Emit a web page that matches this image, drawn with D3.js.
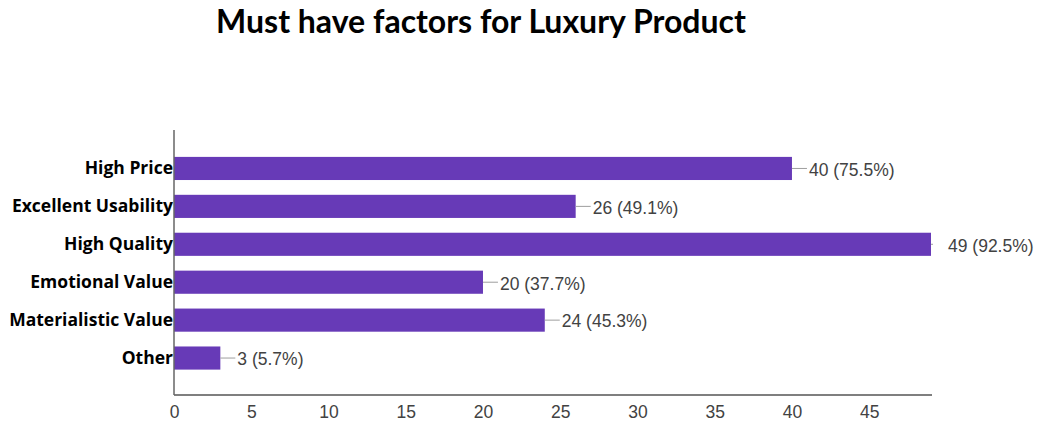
<!DOCTYPE html>
<html>
<head>
<meta charset="utf-8">
<script src="https://cdn.jsdelivr.net/npm/d3@7/dist/d3.min.js"></script>
<style>
  html, body { margin: 0; padding: 0; background: #fff; }
  svg { display: block; }
</style>
</head>
<body>
<div id="chart"></div>
<script>
// Survey answers: how many respondents picked each factor
const categories = ["High Price", "Excellent Usability", "High Quality", "Emotional Value", "Materialistic Value", "Other"];
const counts = [40, 26, 49, 20, 24, 3];
const percents = ["75.5%", "49.1%", "92.5%", "37.7%", "45.3%", "5.7%"];
const xTicks = [0, 5, 10, 15, 20, 25, 30, 35, 40, 45];
const title = "Must have factors for Luxury Product";

const width = 1040, height = 424;
const plot = { left: 174, right: 932, top: 130, bottom: 395 };

const svg = d3.select("#chart").append("svg")
  .attr("width", width).attr("height", height);

const x = d3.scaleLinear().domain([0, 49]).range([plot.left, plot.right - 1]);
const y = d3.scaleBand().domain(categories)
  .range([149.5, 377]).paddingInner(0.39).paddingOuter(0.195);

// Title
svg.append("text")
  .attr("x", 481).attr("y", 33)
  .attr("text-anchor", "middle")
  .attr("font-family", "Lato, 'Open Sans', sans-serif")
  .attr("font-weight", "bold")
  .attr("font-size", 32)
  .attr("fill", "#000")
  .text(title);

// Bars
svg.append("g").selectAll("rect")
  .data(categories)
  .join("rect")
  .attr("x", x(0))
  .attr("y", d => y(d))
  .attr("width", (d, i) => x(counts[i]) - x(0))
  .attr("height", y.bandwidth())
  .attr("fill", "#673ab7");

// Leader lines, clipped to the plotting area
svg.append("clipPath").attr("id", "plotClip")
  .append("rect")
  .attr("x", plot.left).attr("y", plot.top)
  .attr("width", plot.right - plot.left + 1).attr("height", plot.bottom - plot.top);

svg.append("g").attr("clip-path", "url(#plotClip)")
  .selectAll("line")
  .data(categories)
  .join("line")
  .attr("x1", (d, i) => x(counts[i]))
  .attr("x2", (d, i) => x(counts[i]) + 15)
  .attr("y1", d => y(d) + y.bandwidth() / 2)
  .attr("y2", d => y(d) + y.bandwidth() / 2)
  .attr("stroke", "#9e9e9e")
  .attr("stroke-width", 1);

// Value labels
svg.append("g").selectAll("text")
  .data(categories)
  .join("text")
  .attr("x", (d, i) => x(counts[i]) + 17)
  .attr("y", d => y(d) + y.bandwidth() / 2)
  .attr("dy", "0.42em")
  .attr("font-family", "'Liberation Sans', Arial, sans-serif")
  .attr("font-size", 17.5)
  .attr("fill", "#424242")
  .text((d, i) => `${counts[i]} (${percents[i]})`);

// Category labels
svg.append("g").selectAll("text")
  .data(categories)
  .join("text")
  .attr("x", plot.left - 1)
  .attr("y", d => y(d) + y.bandwidth() / 2)
  .attr("dy", "0.33em")
  .attr("text-anchor", "end")
  .attr("font-family", "'Open Sans', Lato, sans-serif")
  .attr("font-weight", "bold")
  .attr("font-size", 17.5)
  .attr("fill", "#000")
  .text(d => d);

// Axes
const xAxis = d3.axisBottom(x).tickValues(xTicks).tickSize(0).tickPadding(10.5);
const gx = svg.append("g")
  .attr("transform", `translate(0,${plot.bottom})`)
  .call(xAxis);
gx.select(".domain").remove();
gx.selectAll("text")
  .attr("font-family", "'Liberation Sans', Arial, sans-serif")
  .attr("font-size", 17.5)
  .attr("fill", "#424242");

svg.append("line")
  .attr("x1", plot.left).attr("x2", plot.right)
  .attr("y1", plot.bottom).attr("y2", plot.bottom)
  .attr("stroke", "#555").attr("stroke-width", 1.5);

svg.append("line")
  .attr("x1", plot.left).attr("x2", plot.left)
  .attr("y1", plot.top).attr("y2", plot.bottom)
  .attr("stroke", "#666").attr("stroke-width", 1.5);
</script>
</body>
</html>
